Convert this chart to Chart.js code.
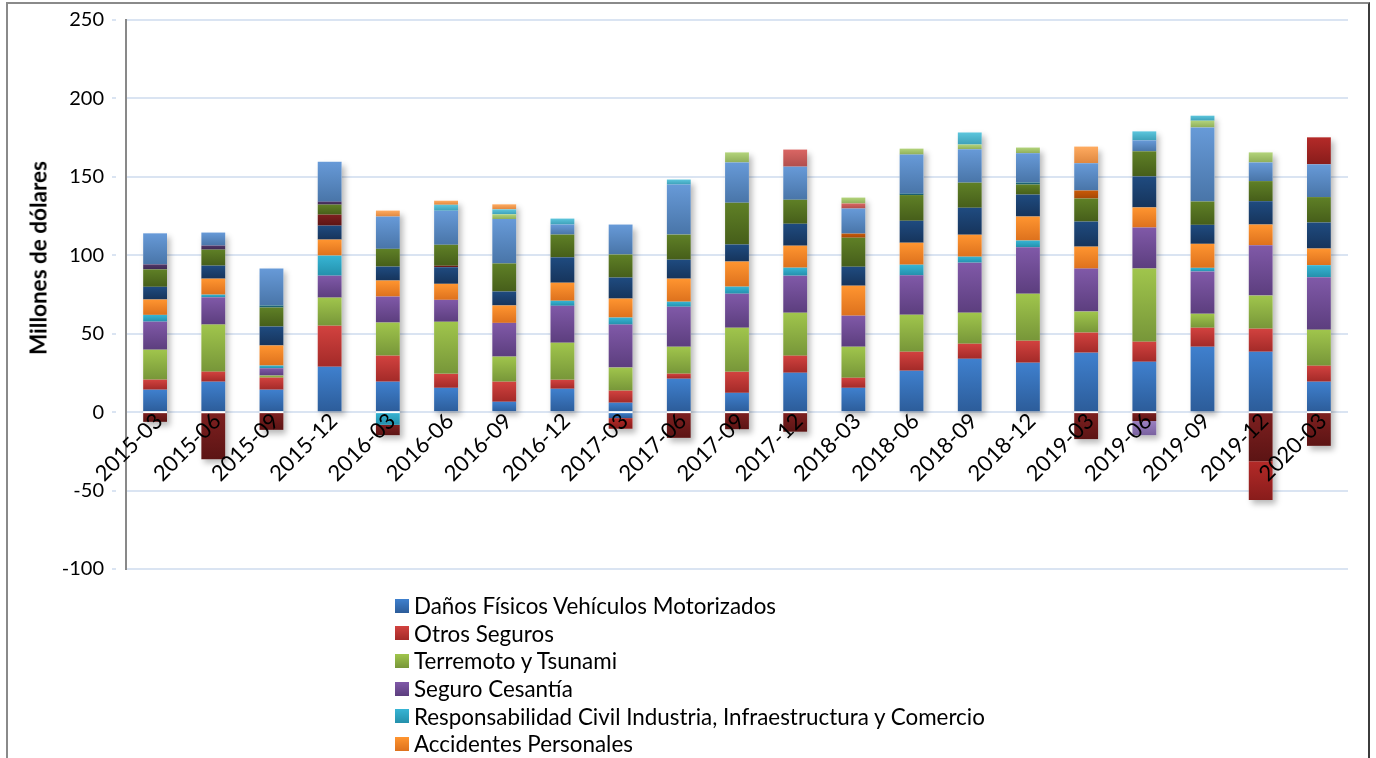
<!DOCTYPE html>
<html lang="es">
<head>
<meta charset="UTF-8" />
<title>Siniestros por ramo</title>
<script src="https://cdn.jsdelivr.net/npm/chart.js"></script>
<style>
  body { margin: 0; background: #fff; overflow: hidden; }
  #wrap { position: relative; width: 1376px; height: 758px; }
  #frame {
    position: absolute; left: 6px; top: 2px; width: 1364px; height: 800px;
    box-sizing: border-box;
    border-top: 2px solid #8a8a8a; border-left: 2px solid #8a8a8a; border-right: 2px solid #3c3c3c;
  }
  #chart { position: absolute; left: 0; top: 0; width: 1376px; height: 758px; }
  #ytitle {
    position: absolute; left: 38px; top: 258px;
    transform: translate(-50%, -50%) rotate(-90deg);
    font-family: Lato, sans-serif; font-size: 22.5px; font-weight: bold; white-space: nowrap;
  }
  #legend { position: absolute; left: 395px; top: 592px; font-family: Lato, sans-serif; font-size: 22.4px; color: #000; }
  .item { height: 27.6px; display: flex; align-items: center; white-space: nowrap; }
  .box { width: 14px; height: 14px; margin-right: 5px; }
</style>
</head>
<body>
<div id="wrap">
  <div id="frame"></div>
  <div id="chart"><canvas id="bars"></canvas></div>
  <div id="ytitle">Millones de dólares</div>
  <div id="legend"></div>
</div>

<script>
const quarters = ["2015-03", "2015-06", "2015-09", "2015-12", "2016-03", "2016-06", "2016-09",
  "2016-12", "2017-03", "2017-06", "2017-09", "2017-12", "2018-03", "2018-06", "2018-09",
  "2018-12", "2019-03", "2019-06", "2019-09", "2019-12", "2020-03"];

const seriesNames = [
  "Daños Físicos Vehículos Motorizados",
  "Otros Seguros",
  "Terremoto y Tsunami",
  "Seguro Cesantía",
  "Responsabilidad Civil Industria, Infraestructura y Comercio",
  "Accidentes Personales",
  "Serie 7", "Serie 8", "Serie 9", "Serie 10", "Serie 11", "Serie 12",
  "Serie 13", "Serie 14", "Serie 15", "Serie 16", "Serie 17", "Serie 18",
  "Serie 19", "Serie 20"
];

// millones de dólares por trimestre, una lista por ramo
const danosVehiculos = [14.3, 19.4, 14.3, 28.9, 19.4, 15.5, 6.6, 14.9, 6.0, 21.3, 12.3, 25.1, 15.5, 26.4, 34.0, 31.5, 37.9, 32.1, 41.7, 38.5, 19.4];
const otrosSeguros   = [6.4, 6.4, 7.7, 26.2, 16.6, 8.9, 12.8, 5.7, 7.7, 3.2, 13.4, 10.9, 6.4, 12.1, 9.6, 14.0, 12.8, 12.8, 12.1, 14.7, 10.2];
const terremoto      = [19.1, 30.0, 1.3, 17.9, 21.1, 33.2, 16.0, 23.6, 14.7, 17.2, 28.1, 27.4, 19.8, 23.6, 19.8, 30.0, 13.4, 46.6, 8.9, 21.1, 23.0];
const cesantia       = [17.9, 17.4, 4.7, 14.0, 16.6, 14.0, 21.5, 23.6, 27.4, 25.5, 21.7, 23.6, 19.8, 25.1, 31.9, 29.6, 27.4, 26.2, 27.0, 32.1, 33.4];
const respCivil      = [4.3, 1.7, 1.7, 12.8, -8.1, 0, 0, 3.2, 4.5, 3.2, 4.5, 5.1, 0, 6.8, 3.8, 4.3, 0, 0, 2.3, 0, 7.7];
const accidentes     = [9.8, 10.2, 12.8, 10.2, 10.2, 10.2, 11.1, 11.5, 12.1, 14.7, 16.0, 14.0, 19.1, 14.0, 14.0, 15.3, 14.0, 12.8, 15.3, 13.2, 10.6];
const serie7  = [8.1, 8.3, 12.1, 8.9, 8.9, 10.6, 8.9, 16.2, 13.4, 12.1, 10.9, 14.0, 12.1, 14.0, 17.2, 14.0, 16.0, 19.8, 12.1, 14.9, 16.6];
const serie8  = [-6.2, -30.0, -11.3, 7.0, -6.6, 0.9, 0, 0, 0, -16.4, -10.9, -12.5, 0, 0, 0, 0, -17.2, -5.7, 0, -31.3, -21.5];
const serie9  = [11.1, 10.2, 12.1, 6.4, 11.3, 13.4, 17.9, 14.5, 14.7, 16.0, 26.6, 15.3, 18.5, 16.4, 16.0, 6.4, 14.7, 16.0, 14.9, 12.8, 16.2];
const serie10 = [3.2, 2.6, 0, 1.9, 0, 0, 0, 0, 0, 0, 0, 0, 0, 0, 0, 0, 0, 0, 0, 0, 0];
const serie11 = [0, 0, 1.3, 0, 0, 0, 0, 0, 0, 0, 0, 0, 0, 0.9, 0, 1.3, 0, 0, 0, 0, 0];
const serie12 = [0, 0, 0, 0, 0, 0, 0, 0, 0, 0, 0, 0, 2.6, 0, 0, 0, 5.1, 0, 0, 0, 0];
const serie13 = [19.8, 8.3, 23.6, 25.5, 20.6, 21.7, 28.3, 6.4, 19.1, 31.9, 25.7, 21.1, 16.0, 24.9, 21.3, 18.7, 17.4, 7.0, 47.2, 11.9, 20.9];
const serie14 = [0, 0, 0, 0, 0, 0, 0, 0, 0, 0, 0, 10.9, 3.2, 0, 0, 0, 0, 0, 0, 0, 0];
const serie15 = [0, 0, 0, 0, 0, 0, 3.0, 0, 0, 0, 6.4, 0, 3.8, 3.8, 3.0, 3.6, 0, 0, 4.3, 6.4, 0];
const serie16 = [0, 0, 0, 0, 0, 0, 0, 0, 0, 0, 0, 0, 0, 0, 0, 0, 0, -9.0, 0, 0, 0];
const serie17 = [0, 0, 0, 0, 0, 3.8, 3.2, 3.8, 0, 3.2, 0, 0, 0, 0, 7.7, 0, 0, 5.7, 3.2, 0, 0];
const serie18 = [0, 0, 0, 0, 3.8, 2.6, 3.2, 0, 0, 0, 0, 0, 0, 0, 0, 0, 10.6, 0, 0, 0, 0];
const serie19 = [0, 0, 0, 0, 0, 0, 0, 0, -3.8, 0, 0, 0, 0, 0, 0, 0, 0, 0, 0, 0, 0];
const serie20 = [0, 0, 0, 0, 0, 0, 0, 0, -6.8, 0, 0, 0, 0, 0, 0, 0, 0, 0, 0, -24.7, 17.2];

const seriesValues = [danosVehiculos, otrosSeguros, terremoto, cesantia, respCivil, accidentes,
  serie7, serie8, serie9, serie10, serie11, serie12, serie13, serie14, serie15, serie16,
  serie17, serie18, serie19, serie20];

// [claro arriba, oscuro abajo] para el degradado de cada ramo
const seriesColors = [
  ["#3f80ce", "#2c5c99"], ["#d2423f", "#a32a28"], ["#a0c54c", "#779639"], ["#8059a8", "#5c3e7e"],
  ["#37b5d5", "#2490ab"], ["#ff9530", "#dd711d"], ["#1f4b80", "#16345b"], ["#7e2020", "#5c1414"],
  ["#5f8026", "#465e1a"], ["#523769", "#3d2851"], ["#20707f", "#175766"], ["#c95a08", "#a54807"],
  ["#679ad8", "#4975a8"], ["#da6664", "#b04e4c"], ["#b3d47b", "#8fae5a"], ["#9a80c1", "#7a62a0"],
  ["#5cc6dd", "#3ea0b8"], ["#ffab60", "#df873f"], ["#3f80ce", "#2c5c99"], ["#b42a28", "#881c1b"]
];

const font = "Lato";
Chart.defaults.font.family = font;
Chart.defaults.color = "#000";

// inicio y fin acumulado de un segmento (positivos y negativos se apilan por separado)
function stackRange(d, i) {
  const v = seriesValues[d][i];
  let start = 0;
  for (let k = 0; k < d; k++) {
    const w = seriesValues[k][i];
    if (v >= 0 ? w > 0 : w < 0) start += w;
  }
  return [start, start + v];
}

function segmentFill(ctx, d) {
  const [light, dark] = seriesColors[d];
  const chart = ctx.chart;
  const y = chart.scales.y;
  if (ctx.type !== "data" || !y) return light;
  const [a, b] = stackRange(d, ctx.dataIndex);
  const p1 = y.getPixelForValue(Math.max(a, b));
  const p2 = y.getPixelForValue(Math.min(a, b));
  if (!isFinite(p1) || !isFinite(p2) || p1 === p2) return light;
  const g = chart.ctx.createLinearGradient(0, p1, 0, p2);
  g.addColorStop(0, light);
  g.addColorStop(1, dark);
  return g;
}

// sombra suave detrás de cada columna completa
const columnShadow = {
  id: "columnShadow",
  beforeDatasetsDraw(chart) {
    const ctx = chart.ctx;
    const metas = chart.getSortedVisibleDatasetMetas();
    ctx.save();
    ctx.shadowColor = "rgba(0,0,0,0.28)";
    ctx.shadowBlur = 6;
    ctx.shadowOffsetX = 3;
    ctx.shadowOffsetY = 4;
    ctx.fillStyle = "#fff";
    quarters.forEach((q, i) => {
      let top = Infinity, bottom = -Infinity, x = 0, w = 0;
      metas.forEach(m => {
        const el = m.data[i];
        if (!el) return;
        top = Math.min(top, el.y, el.base);
        bottom = Math.max(bottom, el.y, el.base);
        x = el.x;
        w = el.width;
      });
      if (bottom > top) ctx.fillRect(x - w / 2, top, w, bottom - top);
    });
    ctx.restore();
  }
};

const datasets = seriesValues.map((vals, d) => ({
  label: seriesNames[d],
  data: vals,
  backgroundColor: ctx => segmentFill(ctx, d),
  borderWidth: 0,
  barPercentage: 0.41,
  categoryPercentage: 1
}));

const chart = new Chart(document.getElementById("bars"), {
  type: "bar",
  data: { labels: quarters, datasets: datasets },
  options: {
    responsive: true,
    maintainAspectRatio: false,
    animation: false,
    layout: { padding: { left: 18, right: 28, top: 10, bottom: 189 } },
    plugins: {
      legend: { display: false },
      tooltip: { enabled: false }
    },
    scales: {
      x: {
        stacked: true,
        position: { y: 0 },
        grid: { display: false, drawTicks: false },
        border: { display: false },
        ticks: {
          z: 1,
          autoSkip: false,
          minRotation: 45,
          maxRotation: 45,
          padding: -4,
          labelOffset: 4,
          color: "#000",
          font: { family: font, size: 22 }
        }
      },
      y: {
        stacked: true,
        min: -100,
        max: 250,
        afterFit: scale => { scale.width = 108; },
        ticks: { stepSize: 50, padding: 8, color: "#000", font: { family: font, size: 20 } },
        // marcas cortas junto al eje; el resto del trazo queda en blanco
        grid: { color: "#dae4f2", lineWidth: 2, tickLength: 14, tickBorderDash: [4, 40] },
        border: { color: "#898989", width: 2 }
      }
    }
  },
  plugins: [columnShadow]
});

// leyenda vertical con los primeros ramos
const legend = document.getElementById("legend");
chart.data.datasets.slice(0, 6).forEach((ds, d) => {
  const row = document.createElement("div");
  row.className = "item";
  const box = document.createElement("span");
  box.className = "box";
  box.style.background = `linear-gradient(${seriesColors[d][0]}, ${seriesColors[d][1]})`;
  const text = document.createElement("span");
  text.textContent = ds.label;
  row.appendChild(box);
  row.appendChild(text);
  legend.appendChild(row);
});
</script>
</body>
</html>
